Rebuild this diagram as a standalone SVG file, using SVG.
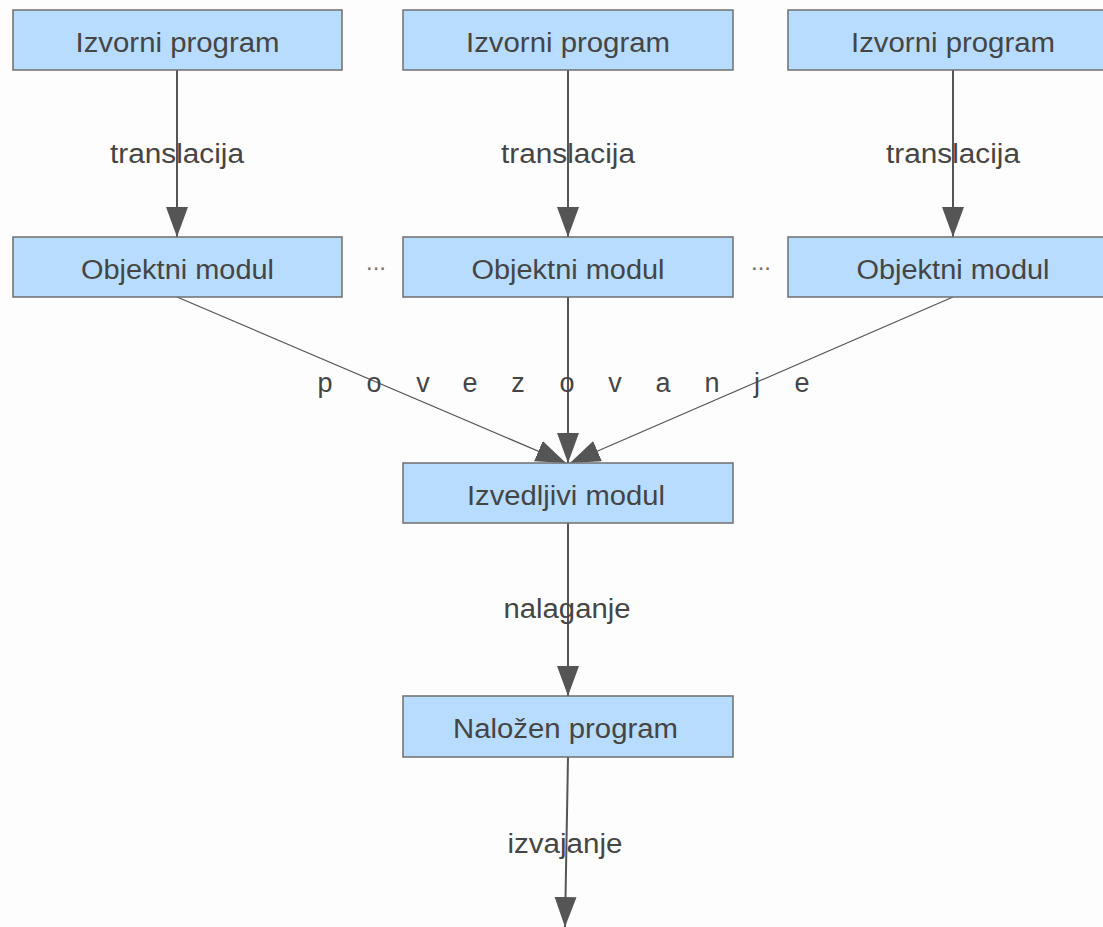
<svg xmlns="http://www.w3.org/2000/svg" width="1103" height="927" viewBox="0 0 1103 927">
<defs>
<style>
.box{fill:#b8dcfd;stroke:#6f6f6f;stroke-width:1.5}
.t{font-family:"Liberation Sans",Arial,sans-serif;font-size:27px;fill:#454545;text-anchor:middle}
.e{stroke:#555;fill:none}
.v{stroke-width:2}
.d{stroke-width:1.2}
.dots{font-family:"Liberation Sans",Arial,sans-serif;font-size:24px;fill:#7a7068;text-anchor:middle}
</style>
<marker id="ah" markerUnits="userSpaceOnUse" markerWidth="32" markerHeight="24" refX="30" refY="11" orient="auto">
<path d="M0,0 L30,11 L0,22 Z" fill="#555"/>
</marker>
</defs>
<rect width="1103" height="927" fill="#fdfdfd"/>
<g id="connectors">
<line class="e v" x1="177" y1="70" x2="177" y2="237" marker-end="url(#ah)"/>
<line class="e v" x1="568" y1="70" x2="568" y2="237" marker-end="url(#ah)"/>
<line class="e v" x1="953" y1="70" x2="953" y2="237" marker-end="url(#ah)"/>
<line class="e d" x1="177" y1="297" x2="566" y2="463" marker-end="url(#ah)"/>
<line class="e v" x1="568" y1="297" x2="568" y2="463" marker-end="url(#ah)"/>
<line class="e d" x1="953" y1="297" x2="570" y2="463" marker-end="url(#ah)"/>
<line class="e v" x1="568" y1="523" x2="568" y2="696" marker-end="url(#ah)"/>
<line class="e v" x1="568" y1="757" x2="565" y2="927" marker-end="url(#ah)"/>
<text class="t" x="177" y="163" textLength="134" lengthAdjust="spacingAndGlyphs">translacija</text>
<text class="t" x="568" y="163" textLength="134" lengthAdjust="spacingAndGlyphs">translacija</text>
<text class="t" x="953" y="163" textLength="134" lengthAdjust="spacingAndGlyphs">translacija</text>
<text class="t" x="325 374 423 470 518 567 615 663 712 757 802" y="392">povezovanje</text>
<text class="t" x="567" y="618" textLength="127" lengthAdjust="spacingAndGlyphs">nalaganje</text>
<text class="t" x="565" y="853" textLength="115" lengthAdjust="spacingAndGlyphs">izvajanje</text>
<text class="dots" x="376" y="270">...</text>
<text class="dots" x="761" y="270">...</text>
</g>
<g id="src1"><rect class="box" x="13" y="10" width="329" height="60"/><text class="t" x="177.5" y="51.5" textLength="204" lengthAdjust="spacingAndGlyphs">Izvorni program</text></g>
<g id="src2"><rect class="box" x="403" y="10" width="330" height="60"/><text class="t" x="568" y="51.5" textLength="204" lengthAdjust="spacingAndGlyphs">Izvorni program</text></g>
<g id="src3"><rect class="box" x="788" y="10" width="330" height="60"/><text class="t" x="953" y="51.5" textLength="204" lengthAdjust="spacingAndGlyphs">Izvorni program</text></g>
<g id="obj1"><rect class="box" x="13" y="237" width="329" height="60"/><text class="t" x="177.5" y="278.5" textLength="193" lengthAdjust="spacingAndGlyphs">Objektni modul</text></g>
<g id="obj2"><rect class="box" x="403" y="237" width="330" height="60"/><text class="t" x="568" y="278.5" textLength="193" lengthAdjust="spacingAndGlyphs">Objektni modul</text></g>
<g id="obj3"><rect class="box" x="788" y="237" width="330" height="60"/><text class="t" x="953" y="278.5" textLength="193" lengthAdjust="spacingAndGlyphs">Objektni modul</text></g>
<g id="exe"><rect class="box" x="403" y="463" width="330" height="60"/><text class="t" x="566" y="504.5" textLength="198" lengthAdjust="spacingAndGlyphs">Izvedljivi modul</text></g>
<g id="loaded"><rect class="box" x="403" y="696" width="330" height="61"/><text class="t" x="565.5" y="737.5" textLength="225" lengthAdjust="spacingAndGlyphs">Naložen program</text></g>
</svg>
